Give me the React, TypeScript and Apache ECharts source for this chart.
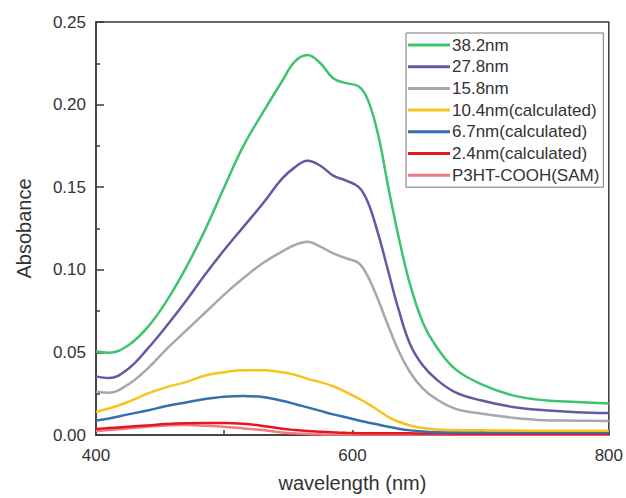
import React, { useEffect, useRef } from "react";
import * as echarts from "echarts";

const wavelengths = [400, 410, 425, 440, 455, 470, 485, 500, 515, 530, 545, 555, 565, 575, 585, 595, 605, 612, 620, 628, 636, 645, 655, 665, 680, 700, 725, 750, 775, 800];

const s382 = [0.0505, 0.0498, 0.0542, 0.065, 0.081, 0.101, 0.124, 0.150, 0.175, 0.195, 0.214, 0.226, 0.230, 0.225, 0.216, 0.213, 0.211, 0.203, 0.182, 0.150, 0.120, 0.091, 0.068, 0.054, 0.040, 0.031, 0.024, 0.021, 0.020, 0.019];
const s278 = [0.0355, 0.0345, 0.040, 0.052, 0.066, 0.081, 0.097, 0.112, 0.126, 0.140, 0.155, 0.162, 0.166, 0.163, 0.157, 0.154, 0.150, 0.141, 0.122, 0.099, 0.076, 0.055, 0.042, 0.034, 0.026, 0.021, 0.017, 0.015, 0.0138, 0.0133];
const s158 = [0.0262, 0.0256, 0.0305, 0.040, 0.052, 0.063, 0.074, 0.085, 0.095, 0.104, 0.111, 0.115, 0.117, 0.114, 0.110, 0.107, 0.104, 0.096, 0.082, 0.066, 0.051, 0.038, 0.028, 0.022, 0.016, 0.013, 0.0105, 0.009, 0.0087, 0.0085];
const s104 = [0.014, 0.016, 0.020, 0.025, 0.029, 0.032, 0.036, 0.038, 0.0392, 0.0392, 0.038, 0.0365, 0.034, 0.032, 0.0295, 0.026, 0.022, 0.019, 0.015, 0.011, 0.008, 0.0058, 0.0042, 0.0034, 0.003, 0.0028, 0.0027, 0.0026, 0.0026, 0.0025];
const s67 = [0.0088, 0.010, 0.0125, 0.0148, 0.0175, 0.0197, 0.0218, 0.0232, 0.0236, 0.023, 0.0207, 0.0188, 0.0167, 0.0146, 0.0125, 0.0107, 0.0088, 0.0076, 0.0063, 0.005, 0.0038, 0.0028, 0.0021, 0.0017, 0.0015, 0.0015, 0.0015, 0.0015, 0.0015, 0.0015];
const s24 = [0.0036, 0.0042, 0.005, 0.0058, 0.0066, 0.0071, 0.0073, 0.0073, 0.0068, 0.0055, 0.0038, 0.003, 0.0024, 0.002, 0.0016, 0.0013, 0.0011, 0.001, 0.001, 0.001, 0.001, 0.001, 0.0009, 0.0009, 0.0008, 0.0008, 0.0008, 0.0008, 0.0008, 0.0008];
const sSAM = [0.0022, 0.003, 0.004, 0.005, 0.0058, 0.006, 0.0056, 0.005, 0.004, 0.003, 0.0015, 0.001, 0.0006, 0.0004, 0.0003, 0.0003, 0.0003, 0.0003, 0.0003, 0.0003, 0.0003, 0.0003, 0.0003, 0.0003, 0.0003, 0.0003, 0.0003, 0.0003, 0.0003, 0.0003];

const seriesNames = ["38.2nm", "27.8nm", "15.8nm", "10.4nm(calculated)", "6.7nm(calculated)", "2.4nm(calculated)", "P3HT-COOH(SAM)"];
const seriesValues = [s382, s278, s158, s104, s67, s24, sSAM];
const seriesColors = ["#3cc46e", "#5e5da3", "#a8a8a8", "#f7c41e", "#3470ae", "#e4161e", "#f27a80"];

const FONT = "Liberation Sans, Arial, sans-serif";

export default function App() {
  const ref = useRef<HTMLDivElement>(null);
  useEffect(() => {
    if (!ref.current) return;
    const chart = echarts.init(ref.current, null, { renderer: "svg" });
    chart.setOption({
      animation: false,
      backgroundColor: "#ffffff",
      textStyle: { fontFamily: FONT },
      grid: {
        left: 96,
        right: 14,
        top: 22,
        bottom: 62,
        show: true,
        borderColor: "#3a3a3a",
        borderWidth: 1.5,
      },
      legend: {
        orient: "vertical",
        left: 406,
        top: 33,
        padding: [3.5, 4, 3.5, 2],
        icon: "rect",
        itemWidth: 42,
        itemHeight: 3,
        itemGap: 4.7,
        borderColor: "#777777",
        borderWidth: 1,
        backgroundColor: "#ffffff",
        textStyle: { fontSize: 17, color: "#333333", fontFamily: FONT, padding: [0, 0, 0, -3] },
        data: seriesNames,
      },
      xAxis: {
        type: "value",
        min: 400,
        max: 800,
        interval: 100,
        name: "wavelength (nm)",
        nameLocation: "middle",
        nameGap: 38,
        nameTextStyle: { fontSize: 20, color: "#333333", fontFamily: FONT },
        axisLine: { show: true, lineStyle: { color: "#3a3a3a", width: 1.5 } },
        axisTick: { show: true, inside: true, length: 5, lineStyle: { color: "#3a3a3a", width: 1.5 } },
        axisLabel: {
          fontSize: 17,
          color: "#333333",
          margin: 12,
          fontFamily: FONT,
          formatter: (v: number) => (v % 200 === 0 ? String(v) : ""),
        },
        splitLine: { show: false },
      },
      yAxis: {
        type: "value",
        min: 0,
        max: 0.25,
        interval: 0.05,
        name: "Absobance",
        nameLocation: "middle",
        nameGap: 62,
        nameTextStyle: { fontSize: 20, color: "#333333", fontFamily: FONT },
        axisLine: { show: true, lineStyle: { color: "#3a3a3a", width: 1.5 } },
        axisTick: { show: true, inside: true, length: 8, lineStyle: { color: "#3a3a3a", width: 1.5 } },
        minorTick: { show: true, splitNumber: 2, length: 4, lineStyle: { color: "#3a3a3a", width: 1.5 } },
        axisLabel: {
          fontSize: 17,
          color: "#333333",
          margin: 10,
          fontFamily: FONT,
          formatter: (v: number) => v.toFixed(2),
        },
        splitLine: { show: false },
      },
      series: seriesNames.map((name, i) => ({
        name,
        type: "line",
        symbol: "none",
        smooth: 0.4,
        data: wavelengths.map((w, j) => [w, seriesValues[i][j]]),
        lineStyle: { color: seriesColors[i], width: 2.5 },
        itemStyle: { color: seriesColors[i] },
        z: 10 - i,
      })),
    });
    return () => chart.dispose();
  }, []);
  return <div ref={ref} style={{ position: "fixed", left: 0, top: 0, width: 626, height: 498 }} />;
}
